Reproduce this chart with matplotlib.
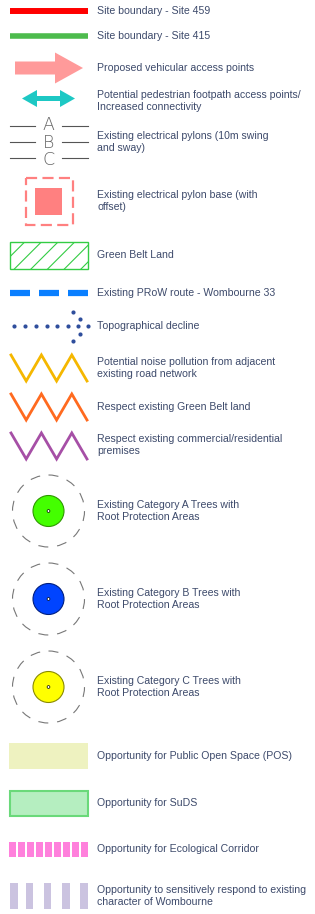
import matplotlib
matplotlib.use("Agg")
import matplotlib.pyplot as plt
from matplotlib.patches import Rectangle, Circle, Polygon
import numpy as np

# ---- legend content ----
labels = [
    "Site boundary - Site 459",
    "Site boundary - Site 415",
    "Proposed vehicular access points",
    "Potential pedestrian footpath access points/\nIncreased connectivity",
    "Existing electrical pylons (10m swing\nand sway)",
    "Existing electrical pylon base (with\noffset)",
    "Green Belt Land",
    "Existing PRoW route - Wombourne 33",
    "Topographical decline",
    "Potential noise pollution from adjacent\nexisting road network",
    "Respect existing Green Belt land",
    "Respect existing commercial/residential\npremises",
    "Existing Category A Trees with\nRoot Protection Areas",
    "Existing Category B Trees with\nRoot Protection Areas",
    "Existing Category C Trees with\nRoot Protection Areas",
    "Opportunity for Public Open Space (POS)",
    "Opportunity for SuDS",
    "Opportunity for Ecological Corridor",
    "Opportunity to sensitively respond to existing\ncharacter of Wombourne",
]
row_y = [11, 36, 68, 101, 142, 201, 255, 293, 326, 368, 407, 445,
         511, 599, 687, 756, 803, 849, 896]
pylon_letters = ["A", "B", "C"]
zigzag_colors = ["#F5B700", "#FF6A1F", "#A64FA6"]
tree_colors = ["#44FF00", "#0044FF", "#FFFF00"]
tree_edges = ["#2E9900", "#001F80", "#8A8A00"]

W, H = 315, 914
fig = plt.figure(figsize=(W / 100, H / 100), dpi=100)
ax = fig.add_axes([0, 0, 1, 1])
ax.set_xlim(0, W)
ax.set_ylim(H, 0)
ax.axis("off")

TXT = "#3D4A6B"
FONT = "Liberation Sans"
for lab, y in zip(labels, row_y):
    ax.text(97, y, lab, ha="left", va="center", fontsize=7.6, color=TXT,
            family=FONT, linespacing=1.3)

# 1,2 site boundaries
ax.plot([10, 88], [row_y[0]] * 2, color="#FF0000", lw=4.3, solid_capstyle="butt")
ax.plot([10, 88], [row_y[1]] * 2, color="#4DBB4D", lw=4.0, solid_capstyle="butt")

# 3 vehicular arrow
y = row_y[2]
ax.add_patch(Polygon([[15, y - 6.5], [55, y - 6.5], [55, y - 15.5], [83, y], [55, y + 15.5],
                      [55, y + 6.5], [15, y + 6.5]], closed=True, color="#FF9A9A", lw=0))

# 4 pedestrian double arrow
y = row_y[3] - 2.5
ax.add_patch(Polygon([[22, y], [37, y - 8.5], [37, y - 2.5], [60, y - 2.5], [60, y - 8.5],
                      [75, y], [60, y + 8.5], [60, y + 2.5], [37, y + 2.5], [37, y + 8.5]],
                     closed=True, color="#1DC8C4", lw=0))

# 5 pylons
for i in range(len(pylon_letters)):
    yy = 126 + 16 * i
    ax.plot([10, 35], [yy, yy], color="#555555", lw=0.8)
    ax.plot([62, 88], [yy, yy], color="#555555", lw=0.8)
ax.text(48.5, row_y[4] + 0.5, "\n".join(pylon_letters), ha="center", va="center",
        fontsize=12.5, color="#666666", family="DejaVu Sans", fontweight="light",
        linespacing=0.93, multialignment="center")

# 6 pylon base
y = row_y[5]
ax.add_patch(Rectangle((25.5, y - 23.5), 47, 47, fill=False, ec="#FF8080", lw=1.6,
                       ls=(0, (5, 2.4))))
ax.add_patch(Rectangle((35, y - 13.5), 27, 27, color="#FF8080", lw=0))

# 7 green belt
y = row_y[6]
plt.rcParams["hatch.color"] = "#33CC44"
plt.rcParams["hatch.linewidth"] = 0.8
ax.add_patch(Rectangle((10, y - 13.5), 78, 27, fill=False, ec="#33CC44", lw=1,
                       hatch="//"))

# 8 PRoW
y = row_y[7]
ax.plot([10, 88], [y, y], color="#0A7FFF", lw=4.5, ls=(0, (3.2, 1.44)),
        solid_capstyle="butt", dash_capstyle="butt")

# 9 topographical decline
y = row_y[8]
dot_x = [14, 25, 36, 46.5, 57, 67.5, 78, 87.5]
ax.scatter(dot_x, [y] * len(dot_x), s=9, color="#2F4E9C", lw=0)
ax.scatter([73, 80, 80, 73], [y - 14, y - 7, y + 8, y + 15], s=9, color="#2F4E9C", lw=0)

# 10-12 zigzags
for c, y in zip(zigzag_colors, [368, 407, 446]):
    xs = np.linspace(11, 87, 6)
    ys = [y - 13 if k % 2 == 0 else y + 13 for k in range(6)]
    ax.plot(xs, ys, color=c, lw=2.0, solid_joinstyle="miter")

# 13-15 trees
for c, e, y in zip(tree_colors, tree_edges, row_y[12:15]):
    ax.add_patch(Circle((48.5, y), 36, fill=False, ec="#777777", lw=0.8,
                        ls=(0, (9, 8))))
    ax.add_patch(Circle((48.5, y), 15.5, fc=c, ec=e, lw=0.8))
    ax.add_patch(Circle((48.5, y), 1.4, fc="white", ec="black", lw=0.5))

# 16 POS
y = row_y[15]
ax.add_patch(Rectangle((9, y - 13), 79, 26, color="#EEF2C0", lw=0))

# 17 SuDS
y = row_y[16]
ax.add_patch(Rectangle((10, y - 12.5), 78, 25, fc="#B5EEC0", ec="#6AD97A", lw=1.5))

# 18 ecological corridor
y = row_y[17]
for k in range(9):
    ax.add_patch(Rectangle((9.3 + k * 9, y - 7.5), 6.3, 15, color="#FF80DC", lw=0))

# 19 sensitive response
y = row_y[18]
for bx in [10, 25.5, 43.5, 62, 80]:
    ax.add_patch(Rectangle((bx, y - 13), 7.5, 26, color="#CBC3E0", lw=0))

fig.savefig("out.png", dpi=100)
